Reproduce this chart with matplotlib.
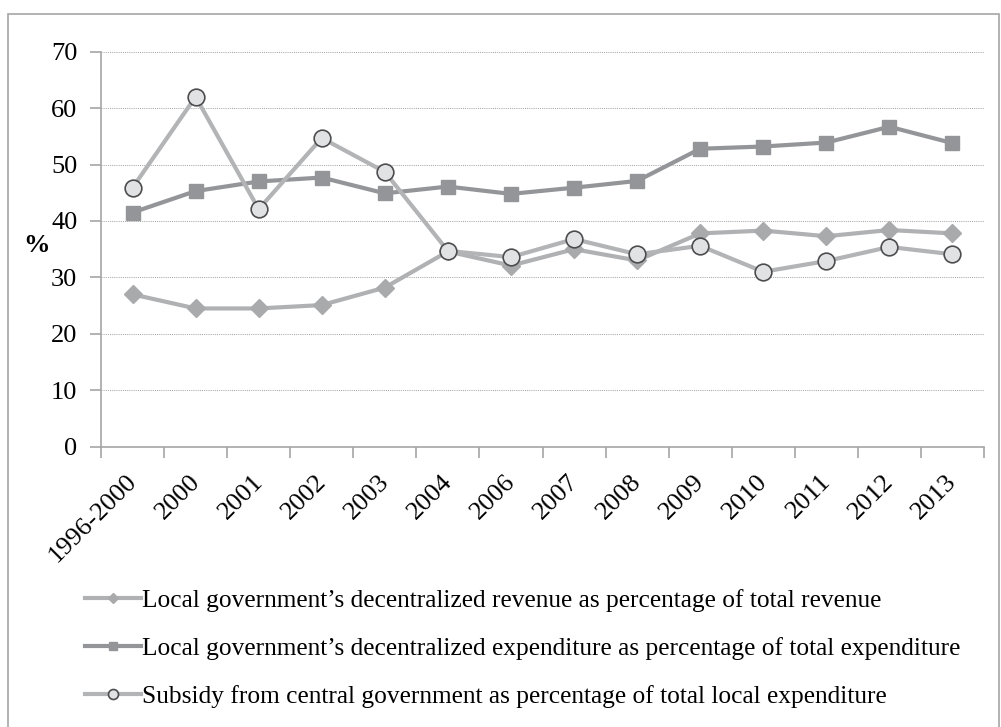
import matplotlib.pyplot as plt
import matplotlib.transforms as mtransforms
from matplotlib.patches import Rectangle

years = ['1996-2000', '2000', '2001', '2002', '2003', '2004', '2006',
         '2007', '2008', '2009', '2010', '2011', '2012', '2013']
revenue = [27.0, 24.5, 24.5, 25.1, 28.2, 34.6, 32.1, 35.0, 33.0, 37.8,
           38.3, 37.3, 38.4, 37.8]
expenditure = [41.5, 45.3, 47.0, 47.7, 44.9, 46.1, 44.8, 45.9, 47.1, 52.8,
               53.2, 53.9, 56.7, 53.8]
subsidy = [45.9, 62.0, 42.1, 54.7, 48.7, 34.7, 33.6, 36.8, 34.1, 35.6,
           31.0, 32.9, 35.4, 34.1]
labels = ['Local government\u2019s decentralized revenue as percentage of total revenue',
          'Local government\u2019s decentralized expenditure as percentage of total expenditure',
          'Subsidy from central government as percentage of total local expenditure']

plt.rcParams['font.family'] = 'Liberation Serif'

fig = plt.figure(figsize=(10.01, 7.27), dpi=100)
# outer chart frame (bottom edge runs off the canvas)
fig.patches.append(Rectangle((8 / 1001, -0.01), 991 / 1001, 1 - 14 / 727 + 0.01,
                             transform=fig.transFigure, fill=False,
                             edgecolor='#a6a6a6', lw=1.2))

ax = fig.add_axes([101 / 1001, 1 - 446.7 / 727, 883 / 1001, 395 / 727])
x = range(len(years))

l1, = ax.plot(x, revenue, color='#b0b1b3', lw=3, marker='D', ms=9,
              mfc='#a9aaac', mec='#a9aaac', zorder=3)
l2, = ax.plot(x, expenditure, color='#939598', lw=3, marker='s', ms=10,
              mfc='#939598', mec='#939598', zorder=3)
l3, = ax.plot(x, subsidy, color='#b3b4b6', lw=3, marker='o', ms=12,
              mfc='#e1e2e4', mec='#4d4d4f', mew=1.2, zorder=4)

ax.set_ylim(0, 70)
ax.set_yticks(range(0, 71, 10))
ax.set_xlim(-0.5, len(years) - 0.5)
ax.set_xticks(list(x))
ax.set_xticklabels(years, rotation=45, ha='right', rotation_mode='anchor')
ax.set_xticks([i - 0.5 for i in range(len(years) + 1)], minor=True)
ax.tick_params(axis='x', which='major', length=0, labelsize=19, pad=17)
ax.tick_params(axis='x', which='minor', length=8, color='#a6a6a6', width=1.2)
ax.tick_params(axis='y', length=8, color='#a6a6a6', width=1.2, labelsize=19, pad=9)
# nudge the slanted year labels a little to the left
shift = mtransforms.ScaledTranslation(-7 / 100, 0, fig.dpi_scale_trans)
for lab in ax.get_xticklabels():
    lab.set_transform(lab.get_transform() + shift)

ax.grid(axis='y', ls=(0, (1, 1.2)), color='#a0a0a0', lw=0.7)
ax.set_axisbelow(True)
for s in ['top', 'right']:
    ax.spines[s].set_visible(False)
for s in ['left', 'bottom']:
    ax.spines[s].set_color('#a6a6a6')
    ax.spines[s].set_linewidth(1.2)

fig.text(36 / 1001, 1 - 245 / 727, '%', fontsize=19, fontweight='bold',
         ha='center', va='center')

fig.legend([l1, l2, l3], labels, loc='upper left',
           bbox_to_anchor=(62 / 1001, 1 - 566 / 727), frameon=False,
           fontsize=18.3, handlelength=2.2, handletextpad=0.05,
           labelspacing=0.98, markerscale=0.6)

fig.savefig('out.png', dpi=100)
